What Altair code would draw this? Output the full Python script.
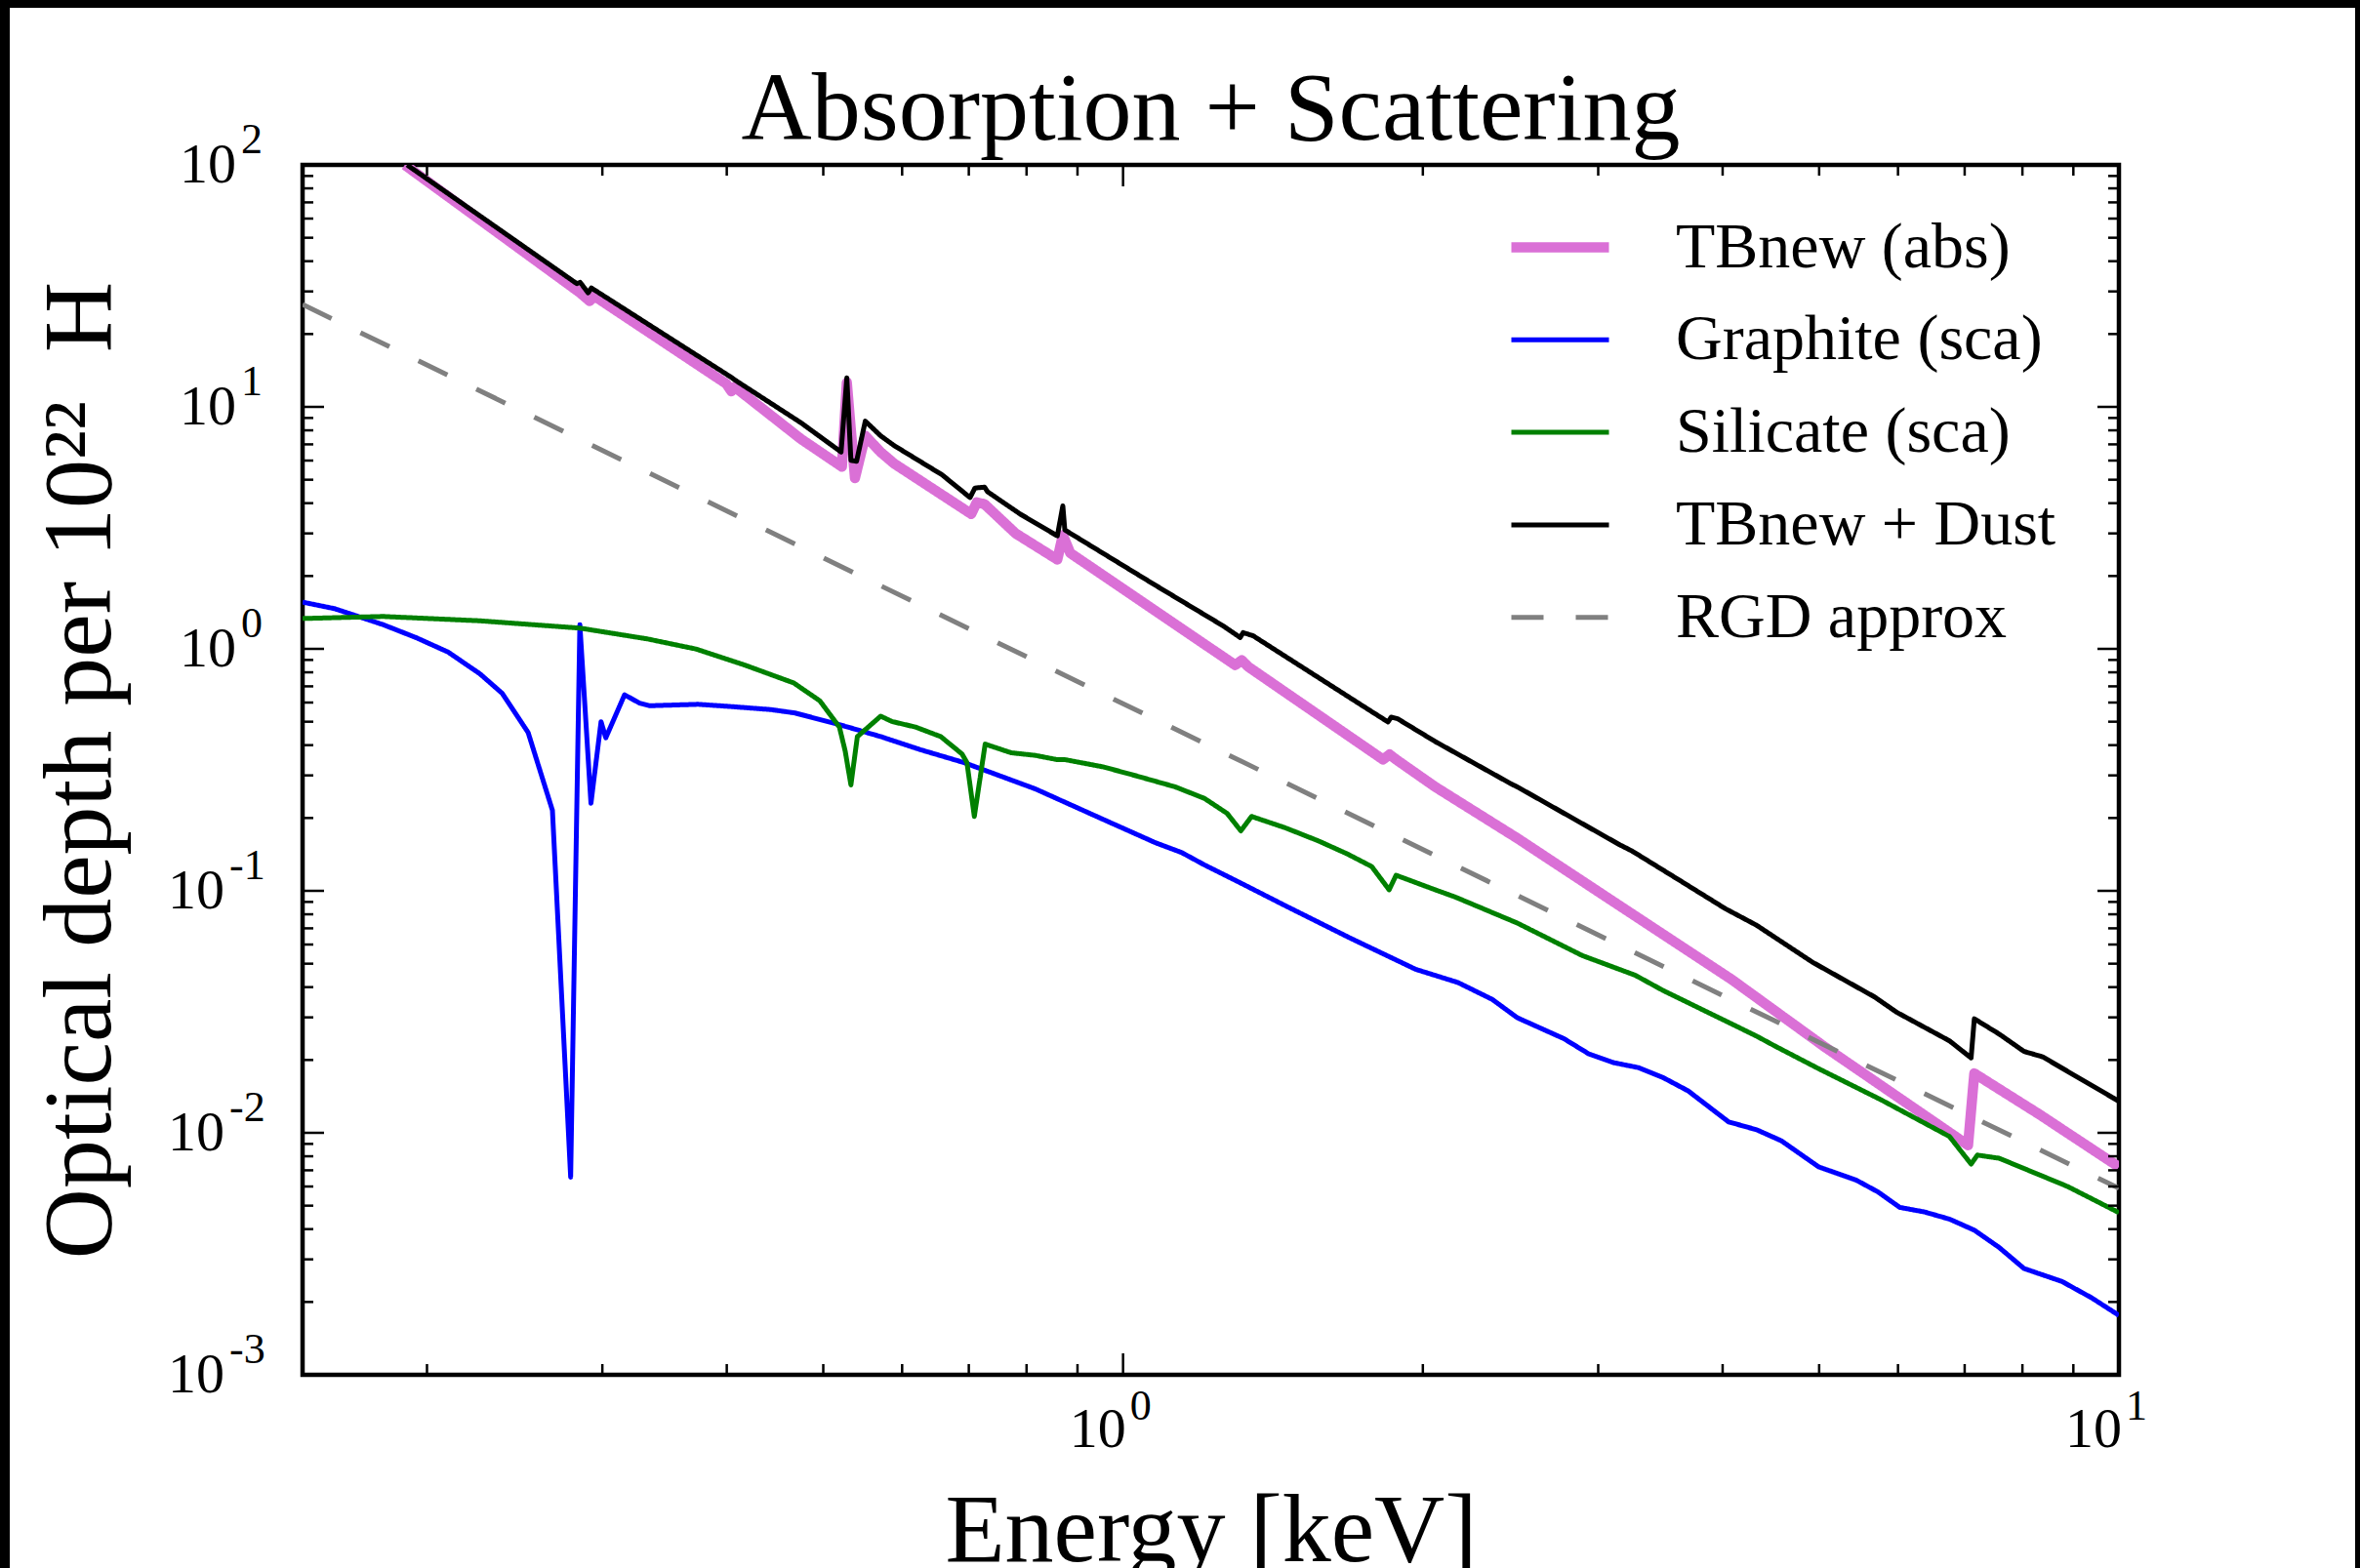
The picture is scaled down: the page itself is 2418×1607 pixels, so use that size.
import altair as alt
import pandas as pd

SERIF = "Liberation Serif"

# plot-area size in pixels
W, H = 1861, 1240

# ---- curves: photon energy [keV] and optical depth per 1e22 H ----
tbnew_energy = [0.190, 0.2850, 0.2913, 0.2946, 0.3995, 0.4043, 0.4073, 0.475, 0.522, 0.528,
                0.538, 0.551, 0.571, 0.589, 0.704, 0.713, 0.726, 0.780, 0.859, 0.870,
                0.885, 1.296, 1.316, 1.336, 1.824, 1.852, 1.880, 2.058, 2.488, 3.199,
                4.085, 5.069, 7.055, 7.158, 8.325, 10.0]
tbnew_tau = [100, 29.6, 27.4, 28.7, 12.47, 11.6, 12.1, 7.36, 5.66, 12.6,
             5.08, 7.59, 6.50, 5.83, 3.61, 4.03, 3.96, 3.00, 2.34, 2.95,
             2.49, 0.857, 0.897, 0.843, 0.349, 0.366, 0.349, 0.269, 0.165, 0.0834,
             0.0430, 0.0226, 0.00889, 0.0176, 0.0119, 0.00723]

graphite_energy = [0.15, 0.1614, 0.1807, 0.1951, 0.210, 0.226, 0.238, 0.2527, 0.2673, 0.2788,
                   0.2848, 0.2922, 0.2991, 0.3024, 0.3158, 0.3269, 0.3346, 0.3744, 0.4029, 0.4430,
                   0.4686, 0.522, 0.571, 0.626, 0.692, 0.816, 0.956, 1.078, 1.145, 1.207,
                   1.311, 1.456, 1.692, 1.967, 2.169, 2.348, 2.488, 2.771, 2.935, 3.108,
                   3.292, 3.487, 3.694, 4.055, 4.326, 4.582, 4.995, 5.446, 5.728, 6.024,
                   6.379, 6.758, 7.158, 7.581, 8.029, 8.767, 9.389, 10.0]
graphite_tau = [1.56, 1.467, 1.259, 1.112, 0.970, 0.789, 0.655, 0.451, 0.215, 0.00656,
                1.259, 0.230, 0.500, 0.429, 0.646, 0.597, 0.582, 0.590, 0.578, 0.561,
                0.543, 0.483, 0.434, 0.383, 0.339, 0.264, 0.197, 0.158, 0.144, 0.128,
                0.108, 0.0867, 0.0637, 0.0474, 0.0418, 0.0356, 0.0299, 0.0245, 0.0212, 0.0195,
                0.0186, 0.0169, 0.0149, 0.0111, 0.0103, 0.00927, 0.00723, 0.00638, 0.00570, 0.00492,
                0.00471, 0.00440, 0.00396, 0.00336, 0.00275, 0.00243, 0.00208, 0.00176]

silicate_energy = [0.15, 0.1807, 0.226, 0.285, 0.333, 0.3727, 0.417, 0.467, 0.496, 0.519,
                   0.526, 0.533, 0.541, 0.571, 0.586, 0.619, 0.656, 0.689, 0.697, 0.709,
                   0.727, 0.772, 0.816, 0.857, 0.873, 0.956, 1.030, 1.128, 1.207, 1.272,
                   1.313, 1.346, 1.456, 1.570, 1.680, 1.777, 1.850, 1.880, 2.058, 2.154,
                   2.488, 2.892, 3.268, 3.487, 4.027, 4.326, 4.518, 4.995, 5.768, 6.758,
                   7.105, 7.209, 7.581, 8.882, 10.0]
silicate_tau = [1.335, 1.361, 1.306, 1.218, 1.099, 0.998, 0.857, 0.723, 0.610, 0.475,
                0.378, 0.274, 0.434, 0.527, 0.501, 0.475, 0.434, 0.368, 0.339, 0.203,
                0.404, 0.372, 0.363, 0.349, 0.349, 0.325, 0.299, 0.269, 0.241, 0.209,
                0.177, 0.203, 0.182, 0.161, 0.142, 0.126, 0.101, 0.116, 0.101, 0.0944,
                0.0736, 0.0540, 0.0448, 0.0387, 0.0290, 0.0251, 0.0228, 0.0184, 0.0137, 0.00966,
                0.00743, 0.00809, 0.00785, 0.00600, 0.00468]

total_energy = [0.191, 0.2828, 0.2850, 0.2903, 0.2925, 0.4043, 0.4073, 0.475, 0.521, 0.528,
                0.533, 0.540, 0.551, 0.571, 0.589, 0.658, 0.702, 0.710, 0.726, 0.731,
                0.788, 0.859, 0.870, 0.874, 1.078, 1.262, 1.311, 1.320, 1.351, 1.770,
                1.845, 1.859, 1.887, 2.058, 2.452, 2.488, 3.153, 3.245, 3.641, 4.027,
                4.326, 4.924, 5.686, 5.981, 6.758, 7.105, 7.158, 7.581, 8.029, 8.385, 10.0]
total_tau = [100, 32.3, 32.7, 29.6, 31.0, 13.24, 12.94, 8.59, 6.51, 13.18,
             6.01, 5.96, 8.73, 7.59, 6.92, 5.24, 4.22, 4.62, 4.66, 4.46,
             3.61, 2.93, 3.90, 3.10, 1.83, 1.24, 1.114, 1.167, 1.132, 0.556,
             0.499, 0.522, 0.514, 0.414, 0.277, 0.269, 0.155, 0.146, 0.109, 0.0843,
             0.0721, 0.0507, 0.0364, 0.0315, 0.0240, 0.0204, 0.0296, 0.0256, 0.0217, 0.0206, 0.0135]

rgd_energy = [0.15, 10.0]
rgd_tau = [26.5, 0.0059]

series_names = ["TBnew (abs)", "Graphite (sca)", "Silicate (sca)", "TBnew + Dust", "RGD approx"]
series_colors = ["#DA70D6", "#0000FF", "#008000", "#000000", "#808080"]
series_widths = [10.5, 5, 5, 5, 5]
series_dashes = [[1, 0], [1, 0], [1, 0], [1, 0], [33, 33]]

# ---- axis ticks and labels ----
x_major = [1, 10]
x_major_exp = ["0", "1"]
x_minor = [0.2, 0.3, 0.4, 0.5, 0.6, 0.7, 0.8, 0.9, 2, 3, 4, 5, 6, 7, 8, 9]
y_major = [1e-3, 1e-2, 1e-1, 1, 1e1, 1e2]
y_major_exp = ["-3", "-2", "-1", "0", "1", "2"]
y_minor = [m * 10.0 ** d for d in range(-3, 2) for m in range(2, 10)]

x_scale = alt.Scale(type="log", domain=[0.15, 10], nice=False)
y_scale = alt.Scale(type="log", domain=[1e-3, 1e2], nice=False)

x_axis = alt.Axis(title="Energy [keV]", labels=False, ticks=False, domain=False, grid=False,
                  titleFont=SERIF, titleFontSize=100, titleFontWeight="normal", titleColor="black",
                  titleX=W / 2, titleY=190, titleAlign="center", titleBaseline="alphabetic",
                  titleAngle=0, zindex=1)
y_axis = alt.Axis(title="Optical depth per 10\u00b2\u00b2\u00a0\u00a0H", labels=False, ticks=False,
                  domain=False, grid=False, titleFont=SERIF, titleFontSize=100,
                  titleFontWeight="normal", titleColor="black", titleX=-198, titleY=H / 2,
                  titleAlign="center", titleBaseline="alphabetic", titleAngle=270, zindex=1)

X = lambda f: alt.X(f, type="quantitative", scale=x_scale, axis=x_axis)
Y = lambda f: alt.Y(f, type="quantitative", scale=y_scale, axis=y_axis)

legend = alt.Legend(title=None, orient="none", legendX=1233, legendY=29, symbolType="stroke",
                    symbolSize=100 * 100, labelFont=SERIF, labelFontSize=66, labelColor="black",
                    labelOffset=63, labelLimit=1000, rowPadding=8.8, padding=0)

color_enc = alt.Color("series:N", scale=alt.Scale(domain=series_names, range=series_colors), legend=legend)
width_enc = alt.StrokeWidth("series:N", scale=alt.Scale(type="ordinal", domain=series_names,
                                                         range=series_widths), legend=legend)
dash_enc = alt.StrokeDash("series:N", scale=alt.Scale(domain=series_names, range=series_dashes),
                          legend=legend)


def curve(name, energy, tau):
    df = pd.DataFrame({"energy": energy, "tau": tau, "series": name})
    return alt.Chart(df).mark_line(clip=True, strokeJoin="round", strokeCap="butt").encode(
        x=X("energy"), y=Y("tau"), color=color_enc, strokeWidth=width_enc, strokeDash=dash_enc)


curves = [
    curve(series_names[0], tbnew_energy, tbnew_tau),
    curve(series_names[1], graphite_energy, graphite_tau),
    curve(series_names[2], silicate_energy, silicate_tau),
    curve(series_names[3], total_energy, total_tau),
    curve(series_names[4], rgd_energy, rgd_tau),
]


# inward ticks on all four sides of the frame
def x_ticks(values, length, top):
    df = pd.DataFrame({"energy": values})
    y0, y1 = (0, length) if top else (H, H - length)
    return alt.Chart(df).mark_rule(color="black", strokeWidth=2.5).encode(
        x=X("energy"), y=alt.value(y0), y2=alt.value(y1))


def y_ticks(values, length, right):
    df = pd.DataFrame({"tau": values})
    x0, x1 = (W, W - length) if right else (0, length)
    return alt.Chart(df).mark_rule(color="black", strokeWidth=2.5).encode(
        y=Y("tau"), x=alt.value(x0), x2=alt.value(x1))


ticks = [
    x_ticks(x_major, 22, False), x_ticks(x_major, 22, True),
    x_ticks(x_minor, 11, False), x_ticks(x_minor, 11, True),
    y_ticks(y_major, 22, False), y_ticks(y_major, 22, True),
    y_ticks(y_minor, 11, False), y_ticks(y_minor, 11, True),
]

# "10" with a raised exponent for each decade
xl = pd.DataFrame({"energy": x_major, "exp": x_major_exp})
x_base = alt.Chart(xl).mark_text(text="10", font=SERIF, fontSize=58, align="right",
                                 baseline="alphabetic", dx=3, color="black").encode(
    x=X("energy"), y=alt.value(H + 74))
x_exp = alt.Chart(xl).mark_text(font=SERIF, fontSize=44, align="left", baseline="alphabetic",
                                dx=7, color="black").encode(
    x=X("energy"), y=alt.value(H + 46), text="exp:N")

yl = pd.DataFrame({"tau": y_major, "exp": y_major_exp})
neg = yl["exp"].str.startswith("-")


def y_labels(df, base_right):
    base = alt.Chart(df).mark_text(text="10", font=SERIF, fontSize=58, align="right",
                                   baseline="alphabetic", dy=18, color="black").encode(
        y=Y("tau"), x=alt.value(base_right))
    exp = alt.Chart(df).mark_text(font=SERIF, fontSize=44, align="left",
                                  baseline="alphabetic", dy=-12, color="black").encode(
        y=Y("tau"), x=alt.value(base_right + 5), text="exp:N")
    return [base, exp]


labels = [x_base, x_exp] + y_labels(yl[~neg], -68) + y_labels(yl[neg], -80)


# thin dark edge around the figure
def edge(x0, x1, y0, y1):
    return alt.Chart(pd.DataFrame({"k": [0]})).mark_rect(color="black").encode(
        x=alt.value(x0), x2=alt.value(x1), y=alt.value(y0), y2=alt.value(y1))


edges = [edge(-310, -300, -169, H + 198), edge(-310, W + 247, -169, -161),
         edge(W + 242, W + 247, -169, H + 198)]

chart = alt.layer(*curves, *ticks, *labels, *edges).properties(
    width=W, height=H,
    title=alt.TitleParams("Absorption + Scattering", font=SERIF, fontSize=100,
                          fontWeight="normal", color="black", anchor="middle", frame="group",
                          baseline="alphabetic", offset=0, dy=243),
    padding={"left": 310, "top": 169, "right": 247, "bottom": 198},
    autosize=alt.AutoSizeParams(type="none"),
    background="white",
).configure_view(stroke="black", strokeWidth=4.5)

chart.save("out.html", embed_options={"renderer": "svg", "actions": False})
